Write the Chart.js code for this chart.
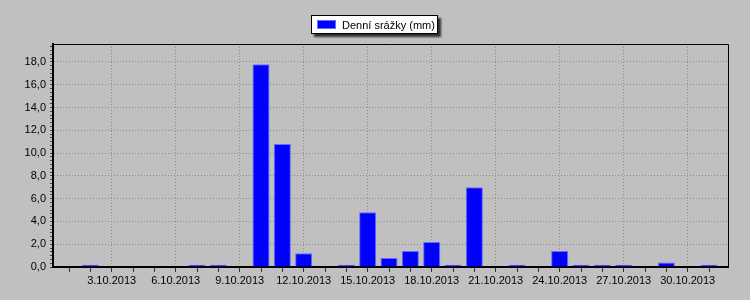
<!DOCTYPE html>
<html>
<head>
<meta charset="utf-8">
<script src="https://cdn.jsdelivr.net/npm/chart.js@4"></script>
<style>
    html, body { margin: 0; padding: 0; background: #c0c0c0; }
    #wrap { position: relative; width: 750px; height: 300px; }
    #legend {
        position: absolute; left: 311px; top: 15px; width: 125px; height: 17px;
        background: #fff; border: 1px solid #000; box-shadow: 3px 3px 2px #303030;
        font: 11px "Liberation Sans", Arial, sans-serif; color: #000;
        display: flex; align-items: center; box-sizing: content-box;
    }
    #legend .sw {
        width: 19px; height: 9px; margin: 0 6px 0 5px;
        background: #0000ff; border: 1px solid #6a6aff; box-sizing: border-box;
    }
</style>
</head>
<body>
<div id="wrap">
    <canvas id="chart" width="750" height="300"></canvas>
    <div id="legend"><span class="sw"></span><span id="legendText"></span></div>
</div>
<script>
// den v měsíci (říjen 2013)
const days = [1, 2, 3, 4, 5, 6, 7, 8, 9, 10, 11, 12, 13, 14, 15, 16, 17, 18, 19, 20, 21, 22, 23, 24, 25, 26, 27, 28, 29, 30, 31];
const rain = [null, 0.2, null, null, null, null, 0.2, 0.2, null, 17.8, 10.8, 1.2, null, 0.2, 4.8, 0.8, 1.4, 2.2, 0.2, 7.0, null, 0.2, null, 1.4, 0.2, 0.2, 0.2, null, 0.4, null, 0.2];
const labelDays = [3, 6, 9, 12, 15, 18, 21, 24, 27, 30];
const yLabels = [0, 2, 4, 6, 8, 10, 12, 14, 16, 18];
const seriesName = 'Denní srážky (mm)';
const monthSuffix = '.10.2013';

const fontSpec = { family: '"Liberation Sans", Arial, sans-serif', size: 11 };
const gridGray = '#8c8c8c';

document.getElementById('legendText').textContent = seriesName;

// horní a pravý okraj grafu
const frame = {
    id: 'frame',
    afterDraw(chart) {
        const { ctx, chartArea: a } = chart;
        ctx.save();
        ctx.strokeStyle = '#000';
        ctx.lineWidth = 1;
        ctx.beginPath();
        ctx.moveTo(a.left, a.top + 0.5);
        ctx.lineTo(a.right + 0.5, a.top + 0.5);
        ctx.lineTo(a.right + 0.5, a.bottom);
        ctx.stroke();
        ctx.restore();
    }
};

const yMax = Math.max(...rain.filter(v => v !== null)) * 1.1;

new Chart(document.getElementById('chart'), {
    type: 'bar',
    data: {
        labels: days,
        datasets: [{
            label: seriesName,
            data: days.map((d, i) => ({ x: d, y: rain[i] })),
            backgroundColor: '#0000ff',
            borderColor: '#6a6aff',
            borderWidth: 1,
            barPercentage: 0.8,
            categoryPercentage: 1
        }]
    },
    options: {
        responsive: false,
        animation: false,
        layout: { padding: { top: 44, right: 22, left: 0, bottom: 0 } },
        plugins: { legend: { display: false }, tooltip: { enabled: false } },
        scales: {
            x: {
                type: 'linear',
                offset: false,
                min: 0.25,
                max: 31.89,
                afterBuildTicks: s => { s.ticks = days.map(d => ({ value: d })); },
                afterFit: s => { s.height = 33; },
                ticks: {
                    autoSkip: false,
                    maxRotation: 0,
                    padding: 2,
                    color: '#000',
                    font: fontSpec,
                    callback: v => labelDays.includes(v) ? v + monthSuffix : ''
                },
                grid: {
                    offset: false,
                    color: c => (c.tick && labelDays.includes(c.tick.value)) ? gridGray : 'transparent',
                    tickBorderDash: [],
                    tickColor: '#333',
                    tickLength: 5,
                    lineWidth: 1
                },
                border: { color: '#000', width: 2, dash: [1, 2] }
            },
            y: {
                min: 0,
                max: yMax,
                afterBuildTicks: s => {
                    const t = [];
                    for (let i = 0; i / 3 <= yMax; i++) t.push({ value: i / 3, major: i % 6 === 0 });
                    s.ticks = t;
                },
                afterFit: s => { s.width = 53; },
                ticks: {
                    autoSkip: false,
                    padding: 4,
                    color: '#000',
                    font: fontSpec,
                    callback: (v, i) => (i % 6 === 0 && yLabels.includes(i / 3)) ? (i / 3).toFixed(1).replace('.', ',') : ''
                },
                grid: {
                    color: c => (c.index % 6 === 0 && c.index > 0 && yLabels.includes(c.index / 3)) ? gridGray : 'transparent',
                    tickBorderDash: [],
                    tickColor: '#444',
                    tickLength: 3,
                    lineWidth: 1
                },
                border: { color: '#000', width: 2, dash: [1, 2] }
            }
        }
    },
    plugins: [frame]
});
</script>
</body>
</html>
